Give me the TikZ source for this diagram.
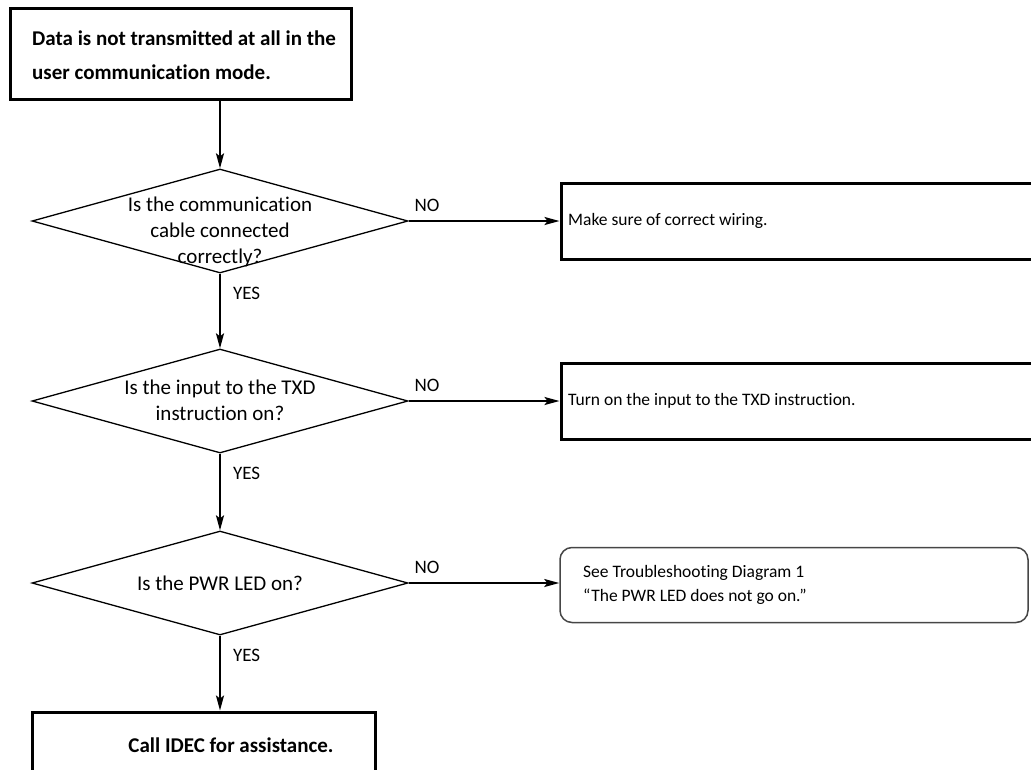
\documentclass[tikz,border=0pt]{standalone}
\usepackage{fontspec}
\setmainfont{Carlito}[Ligatures=NoCommon]
\usetikzlibrary{arrows.meta,shapes.geometric}
\definecolor{flowink}{RGB}{0,0,0}
\definecolor{refedge}{RGB}{70,70,70}

\begin{document}
\begin{tikzpicture}[x=1pt,y=-1pt,
  heavybox/.style={draw=flowink, line width=3pt, inner sep=0pt},
  decision/.style={diamond, draw=flowink, line width=1.3pt, minimum width=376pt,
    minimum height=104pt, inner sep=0pt},
  refbox/.style={draw=refedge, line width=1.5pt, rounded corners=12pt, inner sep=0pt},
  headtext/.style={inner sep=0pt, align=left, font=\fontsize{21}{34}\selectfont\bfseries},
  qtext/.style={inner sep=0pt, align=center, font=\fontsize{21}{26}\selectfont},
  fixtext/.style={inner sep=0pt, align=left, anchor=west, font=\fontsize{17.5}{24}\selectfont},
  answer/.style={inner sep=0pt, font=\fontsize{19}{23}\selectfont},
  flow/.style={flowink, line width=2pt, -{Stealth[length=15pt, width=8pt, inset=3pt]}}
]

% 1. FRAME
\useasboundingbox (0,0) rectangle (1031,769);

% 2. START BOX
\node[heavybox, minimum width=341pt, minimum height=91pt] (start) at (180.5,53.5) {};
\node[headtext, anchor=west] (startt) at (32,55.5) {Data is not transmitted at all in the\\user communication mode.};

% 3. QUESTIONS (centre column)
\node[decision] (q1) at (220,221) {};
\node[qtext] (q1t) at (220,232) {Is the communication\\cable connected\\correctly?};
\node[decision] (q2) at (220,401) {};
\node[qtext] (q2t) at (220,400) {Is the input to the TXD\\instruction on?};
\node[decision] (q3) at (220,583) {};
\node[qtext] (q3t) at (q3) {Is the PWR LED on?};

% 4. REMEDIES (right column)
\node[heavybox, minimum width=479pt, minimum height=76pt] (fix1) at (800.5,221) {};
\node[fixtext] (fix1t) at (568,221) {Make sure of correct wiring.};
\node[heavybox, minimum width=479pt, minimum height=76pt] (fix2) at (800.5,401) {};
\node[fixtext] (fix2t) at (568,401) {Turn on the input to the TXD instruction.};
\node[refbox, minimum width=468pt, minimum height=75pt] (ref3) at (794,585) {};
\node[fixtext] (ref3t) at (583,585) {See Troubleshooting Diagram 1\\“The PWR LED does not go on.”};

% 5. END BOX
\node[heavybox, minimum width=343pt, minimum height=70pt] (finish) at (203.5,747) {};
\node[headtext] (finisht) at (231,745) {Call IDEC for assistance.};

% 6. CONNECTORS
\draw[flow] (q1.north |- start.south) -- (q1.north);
\draw[flow] (q1.south) -- node[answer, pos=0, anchor=north west, xshift=12pt, yshift=-13pt] (yes1) {YES} (q2.north);
\draw[flow] (q2.south) -- node[answer, pos=0, anchor=north west, xshift=12pt, yshift=-13pt] (yes2) {YES} (q3.north);
\draw[flow] (q3.south) -- node[answer, pos=0, anchor=north west, xshift=12pt, yshift=-13pt] (yes3) {YES} (q3.south |- finish.north);
\draw[flow] (q1.east) -- node[answer, pos=0, anchor=south west, xshift=5pt, yshift=8pt] (no1) {NO} (fix1.west);
\draw[flow] (q2.east) -- node[answer, pos=0, anchor=south west, xshift=5pt, yshift=8pt] (no2) {NO} (fix2.west);
\draw[flow] (q3.east) -- node[answer, pos=0, anchor=south west, xshift=5pt, yshift=8pt] (no3) {NO} (q3.east -| ref3.west);

\end{tikzpicture}
\end{document}
